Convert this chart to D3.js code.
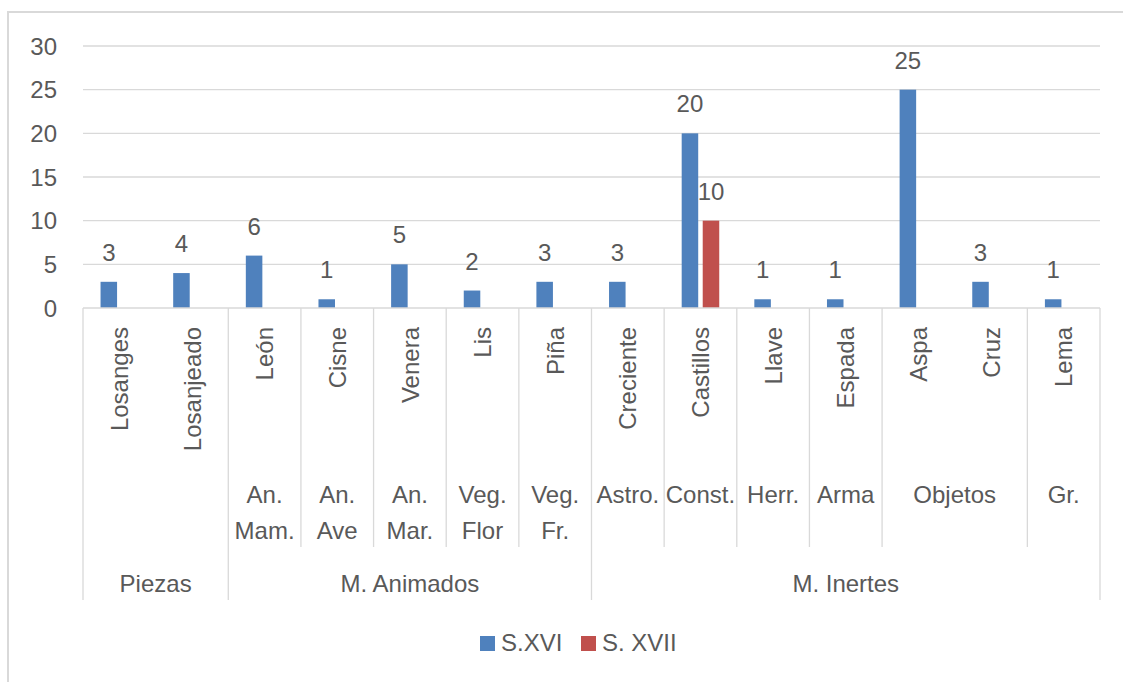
<!DOCTYPE html>
<html>
<head>
<meta charset="utf-8">
<script src="https://cdn.jsdelivr.net/npm/d3@7"></script>
<style>
  body { margin: 0; background: #fff; }
  text { font-family: "Liberation Sans", Arial, sans-serif; fill: #595959; }
</style>
</head>
<body>
<script>
// ---------- data ----------
const categories = ['Losanges', 'Losanjeado', 'León', 'Cisne', 'Venera', 'Lis', 'Piña',
  'Creciente', 'Castillos', 'Llave', 'Espada', 'Aspa', 'Cruz', 'Lema'];
const subGroups = ['', '', 'An. Mam.', 'An. Ave', 'An. Mar.', 'Veg. Flor', 'Veg. Fr.',
  'Astro.', 'Const.', 'Herr.', 'Arma', 'Objetos', 'Objetos', 'Gr.'];
const groups = ['Piezas', 'Piezas', 'M. Animados', 'M. Animados', 'M. Animados', 'M. Animados',
  'M. Animados', 'M. Inertes', 'M. Inertes', 'M. Inertes', 'M. Inertes', 'M. Inertes',
  'M. Inertes', 'M. Inertes'];
const seriesNames = ['S.XVI', 'S. XVII'];
const s16 = [3, 4, 6, 1, 5, 2, 3, 3, 20, 1, 1, 25, 3, 1];
const s17 = [null, null, null, null, null, null, null, null, 10, null, null, null, null, null];
const yTicks = [0, 5, 10, 15, 20, 25, 30];
const colors = ['#4F81BD', '#C0504D'];

// ---------- layout ----------
const W = 1123, H = 682;
const plot = { left: 83, right: 1100, top: 46, bottom: 308 };
const fontSize = 24;

const svg = d3.select('body').append('svg')
  .attr('width', W).attr('height', H);

// chart frame (cropped at right/bottom)
svg.append('rect')
  .attr('x', 8).attr('y', 12)
  .attr('width', 1130).attr('height', 690)
  .attr('fill', 'none').attr('stroke', '#D9D9D9').attr('stroke-width', 2);

const x0 = d3.scaleBand().domain(categories)
  .range([plot.left, plot.right]).paddingInner(0.483).paddingOuter(0.2415);
const x1 = d3.scaleBand().domain(seriesNames)
  .range([0, x0.bandwidth()]).paddingInner(0.214);
const y = d3.scaleLinear().domain([0, 30]).range([plot.bottom, plot.top]);
const step = x0.step();
const catLeft = i => plot.left + i * step;

// gridlines
svg.append('g').selectAll('line').data(yTicks.filter(d => d > 0)).join('line')
  .attr('x1', plot.left).attr('x2', plot.right)
  .attr('y1', d => y(d)).attr('y2', d => y(d))
  .attr('stroke', '#D9D9D9').attr('stroke-width', 1.3);

// y axis labels
svg.append('g').selectAll('text').data(yTicks).join('text')
  .attr('x', 57).attr('y', d => y(d))
  .attr('dy', '0.36em')
  .attr('text-anchor', 'end')
  .style('font-size', fontSize + 'px')
  .text(d => d);

// bars
const series = [s16, s17];
series.forEach((vals, si) => {
  const data = categories.map((c, i) => ({ c: c, v: vals[i] })).filter(d => d.v != null);
  svg.append('g').selectAll('rect').data(data).join('rect')
    .attr('x', d => x0(d.c) + x1(seriesNames[si]))
    .attr('y', d => y(d.v))
    .attr('width', x1.bandwidth())
    .attr('height', d => y(0) - y(d.v))
    .attr('fill', colors[si]);
  svg.append('g').selectAll('text').data(data).join('text')
    .attr('x', d => x0(d.c) + x1(seriesNames[si]) + x1.bandwidth() / 2)
    .attr('y', d => y(d.v) - 21)
    .attr('text-anchor', 'middle')
    .style('font-size', fontSize + 'px')
    .text(d => d.v);
});

// category axis
const axisG = svg.append('g');
axisG.append('line')
  .attr('x1', plot.left).attr('x2', plot.right)
  .attr('y1', plot.bottom).attr('y2', plot.bottom)
  .attr('stroke', '#D9D9D9').attr('stroke-width', 1.3);

// leaf labels, rotated
axisG.selectAll('text.leaf').data(categories).join('text')
  .attr('class', 'leaf')
  .attr('transform', d => 'translate(' + (x0(d) + x0.bandwidth() / 2) + ',327) rotate(-90)')
  .attr('dy', '0.36em')
  .attr('text-anchor', 'end')
  .style('font-size', fontSize + 'px')
  .text(d => d);

// build spans for a level
function spans(arr) {
  const out = [];
  arr.forEach((v, i) => {
    if (out.length && out[out.length - 1].label === v) out[out.length - 1].end = i + 1;
    else out.push({ label: v, start: i, end: i + 1 });
  });
  return out;
}
const midSpans = spans(subGroups.map((s, i) => s === '' ? '_' + i : s));
const topSpans = spans(groups);

// separators: mid level
const topBounds = topSpans.map(s => s.start).concat([categories.length]);
const midBounds = [];
midSpans.forEach(s => {
  if (s.label[0] === '_') return;
  [s.start, s.end].forEach(b => { if (!topBounds.includes(b) && !midBounds.includes(b)) midBounds.push(b); });
});
axisG.selectAll('line.mid').data(midBounds).join('line')
  .attr('class', 'mid')
  .attr('x1', d => catLeft(d)).attr('x2', d => catLeft(d))
  .attr('y1', plot.bottom).attr('y2', 547)
  .attr('stroke', '#D9D9D9').attr('stroke-width', 1.3);
axisG.selectAll('line.top').data(topBounds).join('line')
  .attr('class', 'top')
  .attr('x1', d => catLeft(d)).attr('x2', d => catLeft(d))
  .attr('y1', plot.bottom).attr('y2', 600)
  .attr('stroke', '#D9D9D9').attr('stroke-width', 1.3);

// mid labels (wrapped on spaces)
const midText = axisG.selectAll('text.mid').data(midSpans.filter(s => s.label[0] !== '_')).join('text')
  .attr('class', 'mid')
  .attr('text-anchor', 'middle')
  .style('font-size', fontSize + 'px');
midText.each(function (s) {
  const cx = (catLeft(s.start) + catLeft(s.end)) / 2;
  s.label.split(' ').forEach((w, k) => {
    d3.select(this).append('tspan')
      .attr('x', cx).attr('y', 503 + k * 36)
      .text(w);
  });
});

// top labels
axisG.selectAll('text.top').data(topSpans).join('text')
  .attr('class', 'top')
  .attr('x', s => (catLeft(s.start) + catLeft(s.end)) / 2)
  .attr('y', 592)
  .attr('text-anchor', 'middle')
  .style('font-size', fontSize + 'px')
  .text(s => s.label);

// legend
const legend = svg.append('g');
const legX = [480, 581];
seriesNames.forEach((n, i) => {
  legend.append('rect')
    .attr('x', legX[i]).attr('y', 636)
    .attr('width', 15).attr('height', 15)
    .attr('fill', colors[i]);
  legend.append('text')
    .attr('x', legX[i] + 21).attr('y', 651)
    .style('font-size', fontSize + 'px')
    .text(n);
});
</script>
</body>
</html>
